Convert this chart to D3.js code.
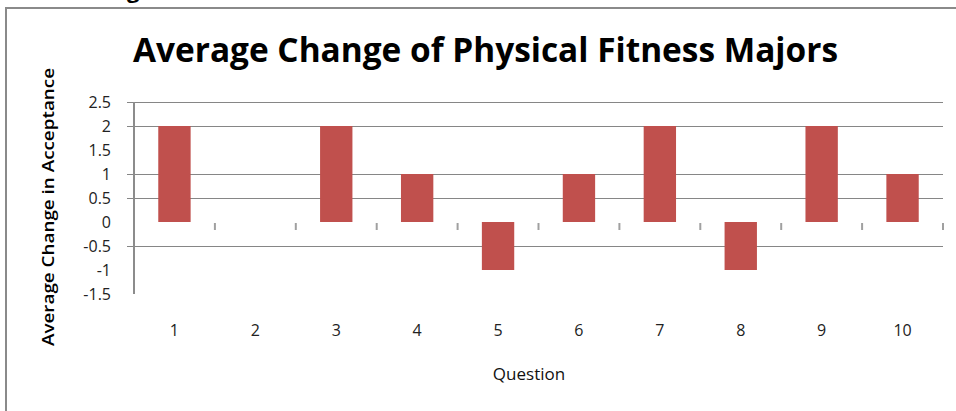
<!DOCTYPE html>
<html>
<head>
<meta charset="utf-8">
<script src="https://cdn.jsdelivr.net/npm/d3@7"></script>
<style>
  html, body { margin: 0; padding: 0; background: #fff; }
  svg { display: block; }
</style>
</head>
<body>
<div id="chart"></div>
<script>
// Chart data
const questions = ['1', '2', '3', '4', '5', '6', '7', '8', '9', '10'];
const avgChange = [2, 0, 2, 1, -1, 1, 2, -1, 2, 1];
const yTicks = [2.5, 2, 1.5, 1, 0.5, 0, -0.5, -1, -1.5];
const gridValues = [2.5, 2, 1, 0.5, -0.5];

const width = 956;
const height = 411;
const plot = { left: 134, right: 943, top: 102, bottom: 294 };

const svg = d3.select('#chart')
  .append('svg')
  .attr('width', width)
  .attr('height', height);

// outer frame (only top and left edges are visible)
svg.append('path')
  .attr('d', `M6,${height} V8 H${width}`)
  .attr('fill', 'none')
  .attr('stroke', '#8a8a8a')
  .attr('stroke-width', 2);

// leftover heading letter clipped at the top
svg.append('text')
  .attr('x', 127)
  .attr('y', -2)
  .style('font-family', '"Open Sans", sans-serif')
  .style('font-weight', 'bold')
  .style('font-size', '22px')
  .text('g');

// scales (absolute page coordinates)
const xScale = d3.scaleBand()
  .domain(questions)
  .range([plot.left, plot.right])
  .padding(0);

const yScale = d3.scaleLinear()
  .domain([-1.5, 2.5])
  .range([plot.bottom, plot.top]);

// Excel-style labels use a plain hyphen for negatives
const fmt = d3.formatLocale({ decimal: '.', thousands: ',', grouping: [3], currency: ['', ''], minus: '-' }).format('');

// gridlines
svg.selectAll('.grid')
  .data(gridValues)
  .enter()
  .append('line')
  .attr('class', 'grid')
  .attr('x1', plot.left - 7)
  .attr('x2', plot.right)
  .attr('y1', d => Math.round(yScale(d)) + 0.5)
  .attr('y2', d => Math.round(yScale(d)) + 0.5)
  .attr('stroke', '#868686')
  .attr('stroke-width', 1);

// bars
const barW = xScale.bandwidth() * 0.4;
svg.selectAll('.bar')
  .data(avgChange.map((v, i) => ({ q: questions[i], v })))
  .enter()
  .append('rect')
  .attr('class', 'bar')
  .attr('x', d => xScale(d.q) + (xScale.bandwidth() - barW) / 2)
  .attr('y', d => yScale(Math.max(0, d.v)))
  .attr('width', barW)
  .attr('height', d => Math.abs(yScale(d.v) - yScale(0)))
  .attr('fill', '#C0504D');

// category tick marks just below zero
svg.selectAll('.cat-tick')
  .data(questions)
  .enter()
  .append('line')
  .attr('class', 'cat-tick')
  .attr('x1', d => xScale(d) + xScale.bandwidth())
  .attr('x2', d => xScale(d) + xScale.bandwidth())
  .attr('y1', yScale(0) + 1)
  .attr('y2', yScale(0) + 8)
  .attr('stroke', '#a0a0a0')
  .attr('stroke-width', 2);

// y axis line
svg.append('line')
  .attr('x1', plot.left).attr('x2', plot.left)
  .attr('y1', plot.top).attr('y2', plot.bottom)
  .attr('stroke', '#8c8c8c')
  .attr('stroke-width', 2);

// y tick labels
svg.selectAll('.y-label')
  .data(yTicks)
  .enter()
  .append('text')
  .attr('class', 'y-label')
  .attr('x', plot.left - 23)
  .attr('y', d => yScale(d) + 6)
  .attr('text-anchor', 'end')
  .style('font-family', '"Open Sans", sans-serif')
  .style('font-size', '16px')
  .style('fill', '#222')
  .text(d => fmt(d));

// x tick labels
svg.selectAll('.x-label')
  .data(questions)
  .enter()
  .append('text')
  .attr('class', 'x-label')
  .attr('x', d => xScale(d) + xScale.bandwidth() / 2)
  .attr('y', plot.bottom + 42)
  .attr('text-anchor', 'middle')
  .style('font-family', '"Open Sans", sans-serif')
  .style('font-size', '16px')
  .style('fill', '#222')
  .text(d => d);

// title
svg.append('text')
  .attr('x', 133)
  .attr('y', 62)
  .attr('textLength', 705)
  .attr('lengthAdjust', 'spacingAndGlyphs')
  .style('font-family', '"Open Sans", sans-serif')
  .style('font-weight', 'bold')
  .style('font-size', '34px')
  .text('Average Change of Physical Fitness Majors');

// axis titles
svg.append('text')
  .attr('transform', 'translate(54,207) rotate(-90)')
  .attr('text-anchor', 'middle')
  .attr('textLength', 278)
  .attr('lengthAdjust', 'spacingAndGlyphs')
  .style('font-family', '"Open Sans", sans-serif')
  .style('font-weight', '600')
  .style('font-size', '17px')
  .text('Average Change in Acceptance');

svg.append('text')
  .attr('x', 529)
  .attr('y', 380)
  .attr('text-anchor', 'middle')
  .style('font-family', '"Open Sans", sans-serif')
  .style('font-size', '17px')
  .style('fill', '#111')
  .text('Question');
</script>
</body>
</html>
